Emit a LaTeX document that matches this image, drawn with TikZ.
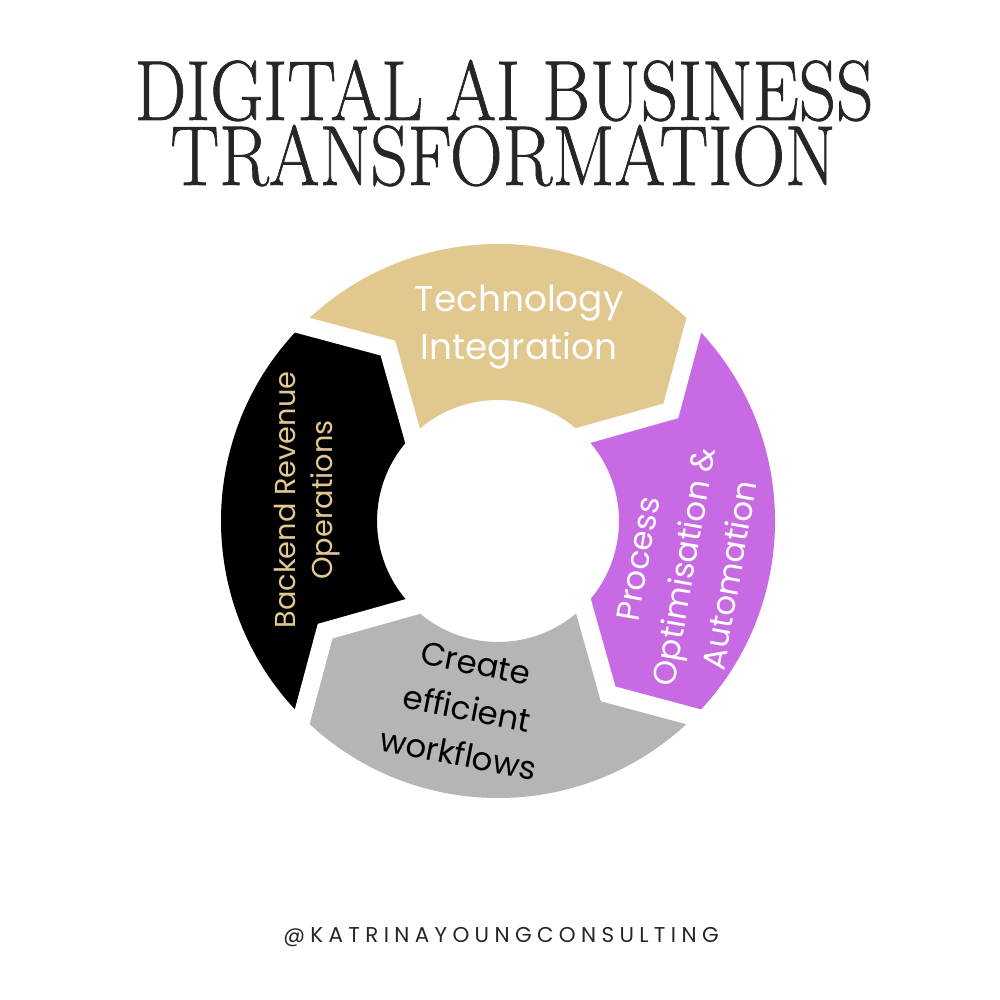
\documentclass[tikz,border=0pt]{standalone}
\usepackage{fontspec}
\usepackage{graphicx}
\newfontfamily\segfont{Poppins}
\newfontfamily\footfont[LetterSpace=25]{Poppins}
\newfontfamily\titlefont[FakeBold=0.9]{Latin Modern Roman}
\definecolor{techtan}{HTML}{E0C88F}
\definecolor{procpurple}{HTML}{C76AE3}
\definecolor{flowgray}{HTML}{B5B5B5}
\definecolor{titleink}{HTML}{262626}
\newcommand{\Ro}{2.77}
\newcommand{\Ri}{1.21}
\newcommand{\Rm}{2.05}
\newcommand{\titlesquash}[1]{\scalebox{0.86}[1]{#1}}

\begin{document}
\begin{tikzpicture}[
		titletext/.style={font=\titlefont\fontsize{24.2}{24}\selectfont, text=titleink, anchor=base, inner sep=0pt},
		seglabel/.style={font=\segfont\fontsize{9.2}{13.2}\selectfont, align=center, inner sep=0pt},
		gap/.style={draw=white, line width=0.18cm, line join=miter, shorten <=-6pt, shorten >=-6pt}
		]
		
		\useasboundingbox (0,0) rectangle (10,10);
		\fill[white] (0,0) rectangle (10,10);
		
		% TITLE
		\node[titletext] (title1) at (5.04,8.80) {\titlesquash{DIGITAL AI BUSINESS}};
		\node[titletext] (title2) at (5.03,8.15) {\titlesquash{TRANSFORMATION}};
		
		% CYCLE RING
		\begin{scope}[shift={(4.98,4.79)}]
			% Technology (top)
			\fill[techtan] (135:\Ro) arc[start angle=135, end angle=45, radius=\Ro]
				-- (32.5:\Rm) -- (45:\Ri) arc[start angle=45, end angle=135, radius=\Ri]
				-- (122.5:\Rm) -- cycle;
			% Process (right)
			\fill[procpurple] (45:\Ro) arc[start angle=45, end angle=-45, radius=\Ro]
				-- (-57.5:\Rm) -- (-45:\Ri) arc[start angle=-45, end angle=45, radius=\Ri]
				-- (32.5:\Rm) -- cycle;
			% Workflows (bottom)
			\fill[flowgray] (-45:\Ro) arc[start angle=-45, end angle=-135, radius=\Ro]
				-- (-147.5:\Rm) -- (-135:\Ri) arc[start angle=-135, end angle=-45, radius=\Ri]
				-- (-57.5:\Rm) -- cycle;
			% Backend (left)
			\fill[black] (225:\Ro) arc[start angle=225, end angle=135, radius=\Ro]
				-- (122.5:\Rm) -- (135:\Ri) arc[start angle=135, end angle=225, radius=\Ri]
				-- (212.5:\Rm) -- cycle;
			
			% white gaps between the arrows
			\draw[gap] (135:\Ro) -- (122.5:\Rm) -- (135:\Ri);
			\draw[gap] (45:\Ro) -- (32.5:\Rm) -- (45:\Ri);
			\draw[gap] (-45:\Ro) -- (-57.5:\Rm) -- (-45:\Ri);
			\draw[gap] (-135:\Ro) -- (-147.5:\Rm) -- (-135:\Ri);
		\end{scope}
		
		% SEGMENT LABELS
		\node[seglabel, text=white, font=\segfont\fontsize{10.2}{13.7}\selectfont] (tech) at (5.19,6.73) {Technology\\Integration};
		\node[seglabel, text=techtan, rotate=90, font=\segfont\fontsize{8.2}{10.5}\selectfont] (backend) at (3.07,5.00) {Backend Revenue\\Operations};
		\node[seglabel, text=white, rotate=80] (process) at (6.84,4.33) {Process\\Optimisation \&\\Automation};
		\node[seglabel, text=black, rotate=-11] (flows) at (4.67,2.91) {Create\\efficient\\workflows};
		
		% FOOTER
		\node[font=\footfont\fontsize{6.1}{7}\selectfont, text=titleink] (handle) at (5.01,0.63) {@KATRINAYOUNGCONSULTING};
		
	\end{tikzpicture}
\end{document}
